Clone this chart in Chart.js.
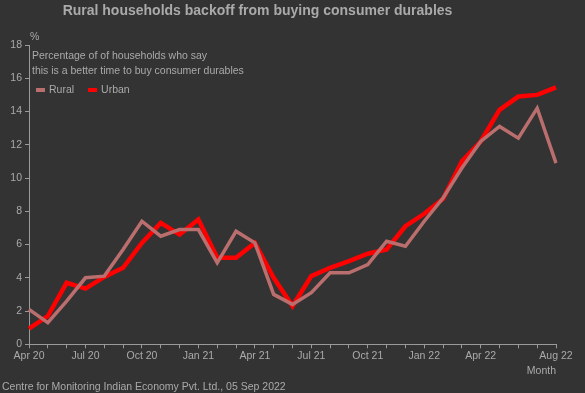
<!DOCTYPE html>
<html>
<head>
<meta charset="utf-8">
<script src="https://cdn.jsdelivr.net/npm/chart.js@4/dist/chart.umd.min.js"></script>
<style>
  html, body { margin: 0; padding: 0; background: #333333; }
  #wrap { width: 585px; height: 393px; }
</style>
</head>
<body>
<div id="wrap"><canvas id="c" width="585" height="393"></canvas></div>
<script>
const months = ["Apr 20","May 20","Jun 20","Jul 20","Aug 20","Sep 20","Oct 20","Nov 20","Dec 20",
  "Jan 21","Feb 21","Mar 21","Apr 21","May 21","Jun 21","Jul 21","Aug 21","Sep 21","Oct 21","Nov 21","Dec 21",
  "Jan 22","Feb 22","Mar 22","Apr 22","May 22","Jun 22","Jul 22","Aug 22"];
const shownTickLabels = ["Apr 20","Jul 20","Oct 20","Jan 21","Apr 21","Jul 21","Oct 21","Jan 22","Apr 22","Aug 22"];
const rural = [2.1, 1.3, 2.6, 4.0, 4.1, 5.7, 7.4, 6.5, 6.9, 6.9, 4.9, 6.8, 6.1, 3.0, 2.4, 3.1, 4.3, 4.3, 4.8, 6.2, 5.9, 7.4, 8.8, 10.6, 12.2, 13.1, 12.4, 14.2, 10.9];
const urban = [0.95, 1.7, 3.7, 3.35, 4.05, 4.6, 6.1, 7.3, 6.6, 7.5, 5.2, 5.2, 6.1, 4.0, 2.3, 4.1, 4.6, 5.0, 5.45, 5.7, 7.1, 7.85, 8.75, 11.0, 12.2, 14.1, 14.9, 15.0, 15.45];
const seriesNames = ["Rural", "Urban"];
const titleText = "Rural households backoff from buying consumer durables";
const subtitleLines = ["Percentage of of households who say", "this is a better time to buy consumer durables"];
const captionText = "Centre for Monitoring Indian Economy Pvt. Ltd., 05 Sep 2022";
const yUnit = "%";
const xTitle = "Month";

const TEXT = "#aaaaaa";
const AXIS = "#9a9a9a";
const FONT = "'Liberation Sans', Arial, sans-serif";
const SMALL = 10.5;
const RURAL_C = "#bb6e6e";
const URBAN_C = "#ff0000";

const overlay = {
  id: 'overlay',
  afterLayout(chart) {
    if (chart.titleBlock) { chart.titleBlock.right -= 43; }
  },
  afterDraw(chart) {
    const ctx = chart.ctx;
    const a = chart.chartArea;
    ctx.save();
    ctx.fillStyle = TEXT;
    ctx.font = SMALL + "px " + FONT;
    ctx.textBaseline = 'middle';
    ctx.textAlign = 'left';
    ctx.fillText(yUnit, a.left + 1, 37);
    subtitleLines.forEach((t, i) => ctx.fillText(t, a.left + 3, 56 + i * 15));
    let x = a.left + 7;
    const y = 90;
    chart.data.datasets.forEach((ds) => {
      ctx.fillStyle = ds.borderColor;
      ctx.fillRect(x, y - 2, 9, 4);
      ctx.fillStyle = TEXT;
      ctx.fillText(ds.label, x + 13, y);
      x += 13 + ctx.measureText(ds.label).width + 14;
    });
    ctx.restore();
  }
};

new Chart(document.getElementById('c'), {
  type: 'line',
  data: {
    labels: months,
    datasets: [
      { label: seriesNames[0], data: rural, borderColor: RURAL_C, backgroundColor: RURAL_C, borderWidth: 3.5, pointRadius: 0, tension: 0, borderJoinStyle: 'miter' },
      { label: seriesNames[1], data: urban, borderColor: URBAN_C, backgroundColor: URBAN_C, borderWidth: 4.5, pointRadius: 0, tension: 0, borderJoinStyle: 'miter' }
    ]
  },
  options: {
    responsive: false,
    animation: false,
    devicePixelRatio: 1,
    layout: { padding: { left: 2, right: 29, top: 0, bottom: 0 } },
    plugins: {
      legend: { display: false },
      tooltip: { enabled: false },
      title: {
        display: true, text: titleText, color: TEXT,
        font: { family: FONT, size: 14, weight: 'bold' },
        padding: { top: 3, bottom: 25.2 }
      },
      subtitle: {
        display: true, text: captionText, color: TEXT, position: 'bottom', align: 'start',
        font: { family: FONT, size: SMALL },
        padding: { top: 0, bottom: 0 }
      }
    },
    scales: {
      x: {
        type: 'category',
        offset: false,
        grid: { display: true, drawOnChartArea: false, drawTicks: true, tickLength: 4, tickColor: AXIS },
        border: { display: true, color: AXIS, width: 1 },
        ticks: {
          autoSkip: false, maxRotation: 0, minRotation: 0, padding: 1.7, color: TEXT,
          font: { family: FONT, size: SMALL },
          callback: function (v, i) { const l = months[i]; return shownTickLabels.includes(l) ? l : ''; }
        },
        title: { display: true, text: xTitle, align: 'end', color: TEXT, font: { family: FONT, size: SMALL }, padding: { top: 0.9, bottom: 2.6 } }
      },
      y: {
        min: 0, max: 18,
        afterFit(scale) { scale.width = 27; },
        grid: { display: true, drawOnChartArea: false, drawTicks: true, tickLength: 4, tickColor: AXIS },
        border: { display: true, color: AXIS, width: 1 },
        ticks: { stepSize: 2, padding: 3, color: TEXT, font: { family: FONT, size: SMALL } }
      }
    }
  },
  plugins: [overlay]
});
</script>
</body>
</html>
